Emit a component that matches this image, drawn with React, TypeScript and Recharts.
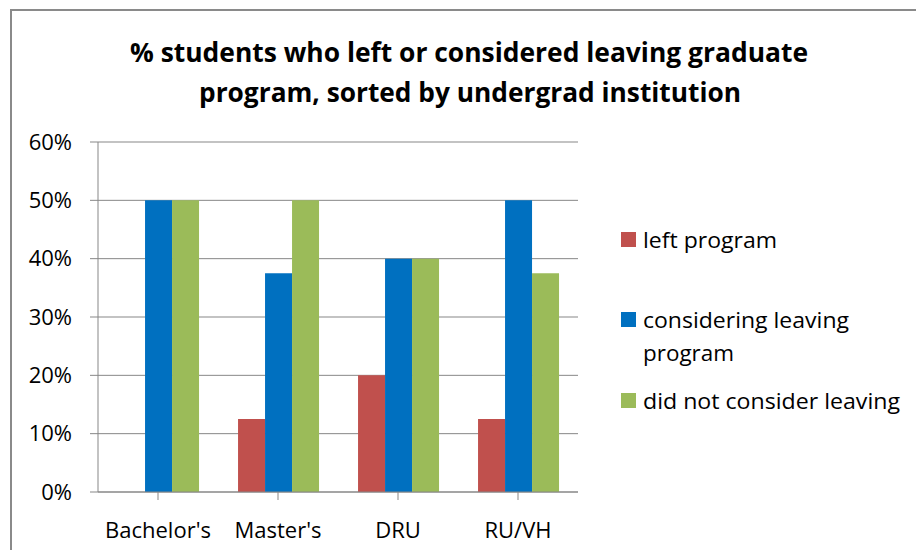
import { BarChart, Bar, XAxis, YAxis, CartesianGrid, Legend } from 'recharts';

// categories and values
const categories = ["Bachelor's", "Master's", 'DRU', 'RU/VH'];
const leftProgram = [0, 0.125, 0.2, 0.125];
const consideringLeaving = [0.5, 0.375, 0.4, 0.5];
const didNotConsider = [0.5, 0.5, 0.4, 0.375];
const yTicks = [0, 0.1, 0.2, 0.3, 0.4, 0.5, 0.6];

const series = [
  { key: 'left', name: 'left program', color: '#C0504D', lines: ['left program'], widths: [134] },
  { key: 'considering', name: 'considering leaving program', color: '#0070C0', lines: ['considering leaving', 'program'], widths: [206, 91] },
  { key: 'notConsider', name: 'did not consider leaving', color: '#9BBB59', lines: ['did not consider leaving'], widths: [257] },
];

const data = categories.map((cat, i) => ({
  cat,
  left: leftProgram[i],
  considering: consideringLeaving[i],
  notConsider: didNotConsider[i],
}));

const FONT = '"Open Sans", "Liberation Sans", sans-serif';
const GRAY = '#878787';

const LegendBox = () => {
  // y of each entry's first line, relative to legend top
  const rows = [20, 100, 181];
  return (
    <svg width={300} height={230} style={{ display: 'block' }}>
      {series.map((s, i) => (
        <g key={s.key}>
          <rect x={0} y={rows[i] - 7} width={15} height={15} fill={s.color} />
          {s.lines.map((ln, j) => (
            <text
              key={j}
              x={22}
              y={rows[i] + j * 33}
              dominantBaseline="central"
              fontFamily={FONT}
              fontSize={22}
              fill="#000"
              textLength={s.widths[j]}
              lengthAdjust="spacingAndGlyphs"
            >
              {ln}
            </text>
          ))}
        </g>
      ))}
    </svg>
  );
};

const App = () => {
  return (
    <div style={{ position: 'absolute', left: 0, top: 0, width: 916, height: 550, overflow: 'hidden', background: '#fff' }}>
      <div style={{ position: 'absolute', left: 10, top: 9, width: 1000, height: 1000, border: '2px solid #8a8a8a', boxSizing: 'border-box' }} />
      <svg width={916} height={120} style={{ position: 'absolute', left: 0, top: 0 }}>
        <text x={469} y={52} textAnchor="middle" dominantBaseline="central" fontFamily={FONT} fontWeight="bold" fontSize={26} textLength={678} lengthAdjust="spacingAndGlyphs">
          % students who left or considered leaving graduate
        </text>
        <text x={470} y={92} textAnchor="middle" dominantBaseline="central" fontFamily={FONT} fontWeight="bold" fontSize={26} textLength={542} lengthAdjust="spacingAndGlyphs">
          program, sorted by undergrad institution
        </text>
      </svg>
      <div style={{ position: 'absolute', left: 0, top: 0 }}>
        <BarChart
          width={916}
          height={550}
          data={data}
          margin={{ top: 142, right: 338, bottom: 0, left: 38 }}
          barCategoryGap="16.7%"
          barGap={0}
        >
          <CartesianGrid vertical={false} stroke={GRAY} strokeWidth={1} />
          <XAxis
            dataKey="cat"
            height={58}
            tickSize={8}
            tickMargin={22}
            axisLine={{ stroke: GRAY }}
            tickLine={{ stroke: GRAY }}
            tick={{ fill: '#000', fontSize: 22, fontFamily: FONT }}
            interval={0}
          />
          <YAxis
            width={60}
            domain={[0, 0.6]}
            ticks={yTicks}
            tickFormatter={(v: number) => `${Math.round(v * 100)}%`}
            tickSize={8}
            tickMargin={18}
            axisLine={{ stroke: GRAY }}
            tickLine={{ stroke: GRAY }}
            tick={{ fill: '#000', fontSize: 22, fontFamily: FONT }}
          />
          <Legend
            layout="horizontal"
            verticalAlign="middle"
            align="center"
            wrapperStyle={{ position: 'absolute', left: 621, top: 219, width: 300, height: 230 }}
            content={() => <LegendBox />}
          />
          {series.map((s) => (
            <Bar key={s.key} dataKey={s.key} name={s.name} fill={s.color} isAnimationActive={false} />
          ))}
        </BarChart>
      </div>
    </div>
  );
};

export default App;
